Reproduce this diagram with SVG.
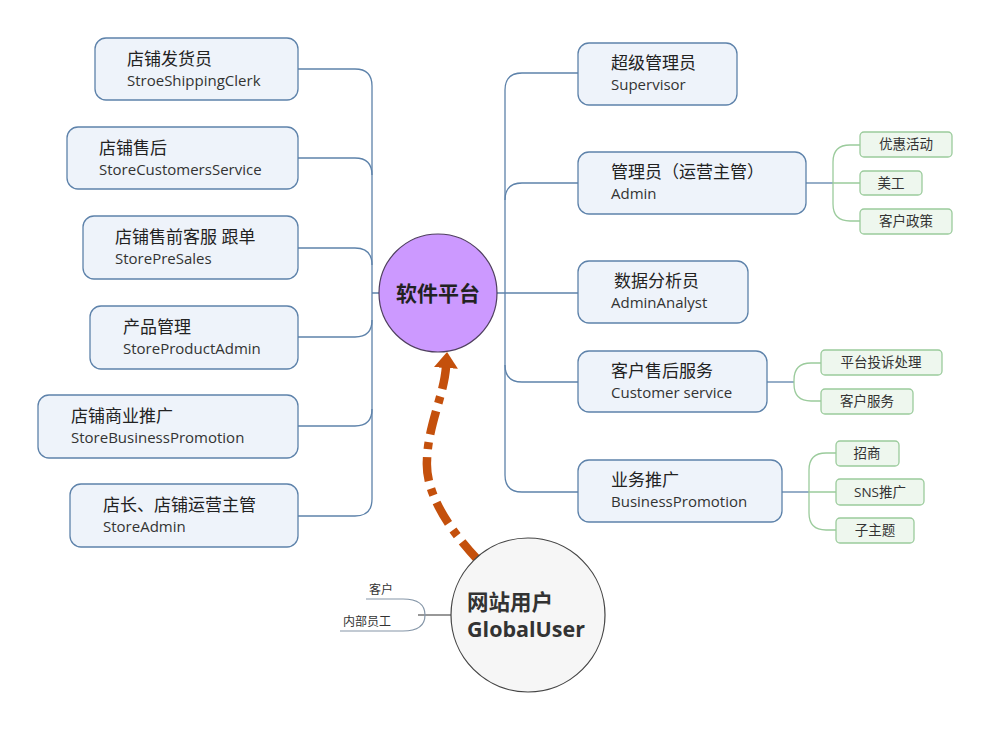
<svg xmlns="http://www.w3.org/2000/svg" width="990" height="731" viewBox="0 0 990 731">
  <defs>
    <style>
      text { font-family: "Open Sans", "Noto Sans CJK SC", sans-serif; }
      .box { fill: #eef3fa; stroke: #5d82aa; stroke-width: 1.3; }
      .sub { fill: #eef7ee; stroke: #9bcb9c; stroke-width: 1.3; }
      .cn { font-size: 17px; fill: #222; }
      .en { font-size: 15px; fill: #333; }
      .st { font-size: 13.5px; fill: #333; text-anchor: middle; }
      .lnk { fill: none; stroke: #5d82aa; stroke-width: 1.3; }
      .glnk { fill: none; stroke: #9bcb9c; stroke-width: 1.3; }
      .sm { font-size: 12px; fill: #333; }
    </style>
    <marker id="arrowHead" markerUnits="userSpaceOnUse" markerWidth="17" markerHeight="24" refX="1" refY="12" orient="auto">
      <path d="M0,0 L16,12 L0,24 z" fill="#c4500c"/>
    </marker>
  </defs>
  <rect width="990" height="731" fill="#ffffff"/>

  <!-- connectors -->
  <g id="connectors">
    <!-- left trunk -->
    <path class="lnk" d="M372 86 V499 M372 293 H379"/>
    <path class="lnk" d="M298 69 H355 Q372 69 372 86"/>
    <path class="lnk" d="M298 158 H355 Q372 158 372 175"/>
    <path class="lnk" d="M298 248 H355 Q372 248 372 265"/>
    <path class="lnk" d="M298 337 H355 Q372 337 372 320"/>
    <path class="lnk" d="M298 426 H355 Q372 426 372 409"/>
    <path class="lnk" d="M298 516 H355 Q372 516 372 499"/>
    <!-- right trunk -->
    <path class="lnk" d="M505 90 V475 M497 293 H578"/>
    <path class="lnk" d="M578 73 H522 Q505 73 505 90"/>
    <path class="lnk" d="M578 183 H522 Q505 183 505 200"/>
    <path class="lnk" d="M578 382 H522 Q505 382 505 365"/>
    <path class="lnk" d="M578 492 H522 Q505 492 505 475"/>
    <!-- Admin branches -->
    <path class="lnk" d="M806 183 H833"/>
    <path class="glnk" d="M833 183 H860 M833 183 V162 Q833 145 850 145 H860 M833 183 V204 Q833 221 850 221 H860"/>
    <!-- Customer service branches -->
    <path class="lnk" d="M767 382 H794"/>
    <path class="glnk" d="M794 382 V380 Q794 363 811 363 H821 M794 382 V384 Q794 401 811 401 H821"/>
    <!-- BusinessPromotion branches -->
    <path class="lnk" d="M782 492 H809"/>
    <path class="glnk" d="M809 492 H836 M809 492 V470 Q809 453 826 453 H836 M809 492 V513 Q809 530 826 530 H836"/>
    <!-- GlobalUser side branches -->
    <path fill="none" stroke="#333" stroke-width="1.2" d="M418 615 H451"/>
    <path fill="none" stroke="#8596a8" stroke-width="1.2" d="M366 599 H403 Q425 599 425 615 Q425 631 403 631 H340"/>
    <!-- GlobalUser to platform -->
    <path fill="none" stroke="#c4500c" stroke-width="8.5" stroke-dasharray="24 8 7 8" d="M478 560 C445 525 425 490 427 460 C428 425 444 395 446 367" marker-end="url(#arrowHead)"/>
  </g>

  <!-- central topic -->
  <g id="platform">
    <circle cx="438" cy="293" r="59" fill="#cc99ff" stroke="#4f3f5f" stroke-width="1.2"/>
    <text x="438" y="301" text-anchor="middle" font-size="21" font-weight="bold" fill="#222">软件平台</text>
  </g>

  <!-- left side nodes -->
  <g id="storeShippingClerk">
    <rect class="box" x="95" y="38" width="203" height="62" rx="11"/>
    <text class="cn" x="127" y="65">店铺发货员</text>
    <text class="en" x="127" y="86">StroeShippingClerk</text>
  </g>
  <g id="storeCustomersService">
    <rect class="box" x="67" y="127" width="231" height="62" rx="11"/>
    <text class="cn" x="99" y="154">店铺售后</text>
    <text class="en" x="99" y="175">StoreCustomersService</text>
  </g>
  <g id="storePreSales">
    <rect class="box" x="83" y="216" width="215" height="63" rx="11"/>
    <text class="cn" x="115" y="243">店铺售前客服 跟单</text>
    <text class="en" x="115" y="264">StorePreSales</text>
  </g>
  <g id="storeProductAdmin">
    <rect class="box" x="90" y="306" width="208" height="63" rx="11"/>
    <text class="cn" x="123" y="333">产品管理</text>
    <text class="en" x="123" y="354">StoreProductAdmin</text>
  </g>
  <g id="storeBusinessPromotion">
    <rect class="box" x="38" y="395" width="260" height="63" rx="11"/>
    <text class="cn" x="71" y="422">店铺商业推广</text>
    <text class="en" x="71" y="443">StoreBusinessPromotion</text>
  </g>
  <g id="storeAdmin">
    <rect class="box" x="70" y="484" width="228" height="63" rx="11"/>
    <text class="cn" x="103" y="511">店长、店铺运营主管</text>
    <text class="en" x="103" y="532">StoreAdmin</text>
  </g>

  <!-- right side nodes -->
  <g id="supervisor">
    <rect class="box" x="578" y="43" width="159" height="62" rx="11"/>
    <text class="cn" x="611" y="69">超级管理员</text>
    <text class="en" x="611" y="90">Supervisor</text>
  </g>
  <g id="admin">
    <rect class="box" x="578" y="152" width="228" height="62" rx="11"/>
    <text class="cn" x="611" y="178">管理员（运营主管）</text>
    <text class="en" x="611" y="199">Admin</text>
  </g>
  <g id="adminAnalyst">
    <rect class="box" x="578" y="261" width="170" height="62" rx="11"/>
    <text class="cn" x="614" y="287">数据分析员</text>
    <text class="en" x="611" y="308">AdminAnalyst</text>
  </g>
  <g id="customerService">
    <rect class="box" x="578" y="351" width="189" height="61" rx="11"/>
    <text class="cn" x="611" y="377">客户售后服务</text>
    <text class="en" x="611" y="398">Customer service</text>
  </g>
  <g id="businessPromotion">
    <rect class="box" x="578" y="460" width="204" height="62" rx="11"/>
    <text class="cn" x="611" y="486">业务推广</text>
    <text class="en" x="611" y="507">BusinessPromotion</text>
  </g>

  <!-- sub topics -->
  <g id="promotionActivity">
    <rect class="sub" x="860" y="132" width="92" height="25" rx="4"/>
    <text class="st" x="906" y="149">优惠活动</text>
  </g>
  <g id="artDesign">
    <rect class="sub" x="860" y="171" width="62" height="24" rx="4"/>
    <text class="st" x="891" y="188">美工</text>
  </g>
  <g id="customerPolicy">
    <rect class="sub" x="860" y="209" width="92" height="25" rx="4"/>
    <text class="st" x="906" y="226">客户政策</text>
  </g>
  <g id="complaintHandling">
    <rect class="sub" x="821" y="350" width="121" height="25" rx="4"/>
    <text class="st" x="881" y="367">平台投诉处理</text>
  </g>
  <g id="customerCare">
    <rect class="sub" x="821" y="389" width="92" height="25" rx="4"/>
    <text class="st" x="867" y="406">客户服务</text>
  </g>
  <g id="merchantRecruit">
    <rect class="sub" x="836" y="441" width="63" height="25" rx="4"/>
    <text class="st" x="867" y="458">招商</text>
  </g>
  <g id="snsPromotion">
    <rect class="sub" x="836" y="479" width="88" height="26" rx="4"/>
    <text class="st" x="880" y="497">SNS推广</text>
  </g>
  <g id="subTheme">
    <rect class="sub" x="836" y="518" width="78" height="25" rx="4"/>
    <text class="st" x="875" y="535">子主题</text>
  </g>

  <!-- site users -->
  <g id="globalUser">
    <circle cx="528" cy="615" r="77" fill="#f6f6f6" stroke="#444" stroke-width="1.2"/>
    <text x="467" y="610" font-size="21.5" font-weight="bold" fill="#333">网站用户</text>
    <text x="467" y="637" font-size="21.5" font-weight="bold" fill="#333">GlobalUser</text>
  </g>
  <g id="customerLabel">
    <text class="sm" x="369" y="594">客户</text>
  </g>
  <g id="staffLabel">
    <text class="sm" x="343" y="626">内部员工</text>
  </g>
</svg>
